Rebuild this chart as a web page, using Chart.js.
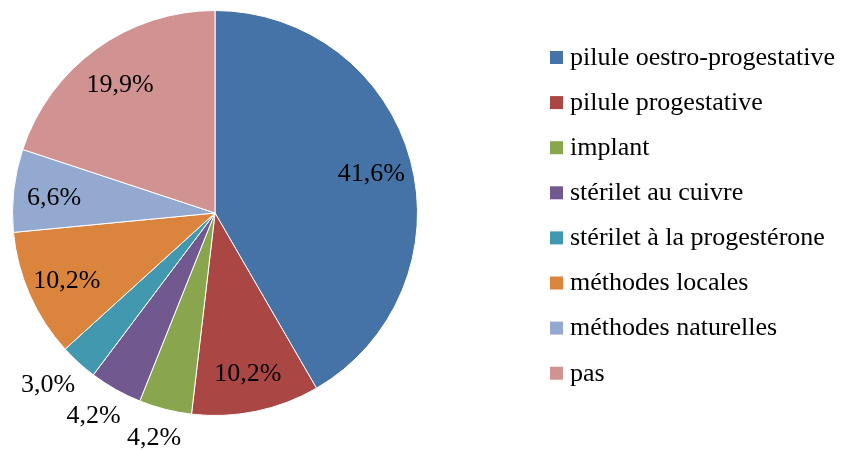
<!DOCTYPE html>
<html>
<head>
<meta charset="utf-8">
<script src="https://cdn.jsdelivr.net/npm/chart.js@4/dist/chart.umd.min.js"></script>
<style>
  html, body { margin: 0; padding: 0; background: #fff; }
  #wrap { position: relative; width: 843px; height: 450px; }
</style>
</head>
<body>
<div id="wrap"><canvas id="pieChart" width="843" height="450"></canvas></div>
<script>
const categories = [
    'pilule oestro-progestative',
    'pilule progestative',
    'implant',
    'stérilet au cuivre',
    'stérilet à la progestérone',
    'méthodes locales',
    'méthodes naturelles',
    'pas'
];
const shares = [41.6, 10.2, 4.2, 4.2, 3.0, 10.2, 6.6, 19.9];
const sliceColors = ['#4572A7', '#AA4643', '#89A54E', '#71588F', '#4198AF', '#DB843D', '#93A9CF', '#D19392'];

const FONT = '26px "Liberation Serif", "Times New Roman", serif';

// étiquettes de pourcentage (dedans pour les grosses parts, dehors pour les petites)
const sliceLabels = {
    id: 'sliceLabels',
    afterDatasetsDraw(chart) {
        const ctx = chart.ctx;
        const meta = chart.getDatasetMeta(0);
        ctx.save();
        ctx.font = FONT;
        ctx.fillStyle = '#000';
        ctx.textAlign = 'center';
        ctx.textBaseline = 'middle';
        meta.data.forEach((arc, i) => {
            const txt = shares[i].toFixed(1).replace('.', ',') + '%';
            const mid = (arc.startAngle + arc.endAngle) / 2;
            const dx = Math.cos(mid), dy = Math.sin(mid);
            let x, y;
            if (shares[i] < 5) {
                // dehors : le bord du texte touche presque le camembert
                const w = ctx.measureText(txt).width;
                const r = arc.outerRadius * 1.09;
                x = arc.x + dx * r + dx * w / 2;
                y = arc.y + dy * r + dy * 12;
            } else {
                const r = arc.outerRadius * 0.8;
                x = arc.x + dx * r;
                y = arc.y + dy * r + 3;
            }
            ctx.fillText(txt, x, y);
        });
        ctx.restore();
    }
};

// légende à droite
const sideLegend = {
    id: 'sideLegend',
    afterDraw(chart) {
        const ctx = chart.ctx;
        ctx.save();
        ctx.font = FONT;
        ctx.textBaseline = 'middle';
        categories.forEach((name, i) => {
            const y = 57 + i * 45.1;
            ctx.fillStyle = sliceColors[i];
            ctx.fillRect(550, y - 6, 13, 13);
            ctx.fillStyle = '#000';
            ctx.fillText(name, 570, y + 1);
        });
        ctx.restore();
    }
};

new Chart(document.getElementById('pieChart').getContext('2d'), {
    type: 'pie',
    data: {
        labels: categories,
        datasets: [{
            data: shares,
            backgroundColor: sliceColors,
            borderColor: '#fff',
            borderWidth: 1
        }]
    },
    options: {
        responsive: false,
        animation: false,
        layout: { padding: { left: 12, top: 10, right: 425, bottom: 34 } },
        plugins: {
            legend: { display: false },
            tooltip: { enabled: false }
        }
    },
    plugins: [sliceLabels, sideLegend]
});
</script>
</body>
</html>
